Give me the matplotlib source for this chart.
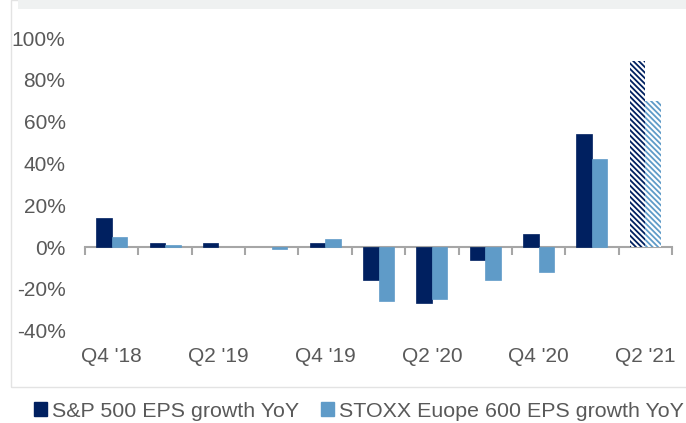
import matplotlib
matplotlib.use("Agg")
import matplotlib.pyplot as plt
from matplotlib.patches import Rectangle, Patch
import matplotlib.transforms as mtransforms
import numpy as np

plt.rcParams['font.family'] = ['Liberation Sans', 'DejaVu Sans']
plt.rcParams['hatch.linewidth'] = 1.3

quarters = ["Q4 '18", "Q1 '19", "Q2 '19", "Q3 '19", "Q4 '19", "Q1 '20",
            "Q2 '20", "Q3 '20", "Q4 '20", "Q1 '21", "Q2 '21"]
sp500 = [14, 2, 2, 0, 2, -16, -27, -6, 6, 54, 89]
stoxx = [5, 1, 0, -1, 4, -26, -25, -16, -12, 42, 70]
estimate = [False] * 10 + [True]
shown_labels = ["Q4 '18", "Q2 '19", "Q4 '19", "Q2 '20", "Q4 '20", "Q2 '21"]
yticks = [-40, -20, 0, 20, 40, 60, 80, 100]
series_names = ["S&P 500 EPS growth YoY", "STOXX Euope 600 EPS growth YoY"]

navy = "#002060"
lblue = "#5F9BC8"
txt = "#595959"

W, H = 686, 423
fig = plt.figure(figsize=(W / 100, H / 100), dpi=100)

# frame and top band
fig.patches.append(Rectangle((11 / W, 1 - 387 / H), 1, 387 / H, transform=fig.transFigure,
                             facecolor="none", edgecolor="#E3E3E3", lw=1.0, zorder=0))
fig.patches.append(Rectangle((18 / W, 1 - 9 / H), 1, 9 / H, transform=fig.transFigure,
                             facecolor="#EFF1F1", edgecolor="none", zorder=0))

left, right = 85 / W, 672 / W
top, bottom = 1 - 38 / H, 1 - 330.6 / H
ax = fig.add_axes([left, bottom, right - left, top - bottom])

x = np.arange(len(quarters))
bw = 0.29
for i in x:
    for val, col, off in ((sp500[i], navy, -bw / 2), (stoxx[i], lblue, bw / 2)):
        if val == 0:
            continue
        if estimate[i]:
            ax.bar(i + off, val, width=bw, facecolor="white", edgecolor=col,
                   hatch="\\" * 6, linewidth=0, zorder=2)
        else:
            ax.bar(i + off, val, width=bw, color=col, edgecolor=col, linewidth=0.5, zorder=2)

ax.set_xlim(-0.5, len(quarters) - 0.5)
ax.set_ylim(-40, 100)
for s in ["top", "right", "left"]:
    ax.spines[s].set_visible(False)
ax.spines["bottom"].set_position(("data", 0))
ax.spines["bottom"].set_color("#A6A6A6")
ax.spines["bottom"].set_linewidth(1.5)
ax.spines["bottom"].set_zorder(1)
ax.set_xticks(np.arange(len(quarters) + 1) - 0.5)
ax.set_xticklabels([])
ax.tick_params(axis="x", length=6, width=1.5, color="#A6A6A6", direction="out")

ax.set_yticks(yticks)
ax.set_yticklabels([f"{v}%" for v in yticks], color=txt, fontsize=15)
ax.tick_params(axis="y", length=0, pad=14)

trans = mtransforms.blended_transform_factory(ax.transData, ax.transAxes)
for i, q in enumerate(quarters):
    if q in shown_labels:
        ax.text(i, -0.09, q, transform=trans, ha="center", va="center",
                fontsize=15, color=txt)

handles = [Patch(facecolor=navy, edgecolor=navy), Patch(facecolor=lblue, edgecolor=lblue)]
fig.legend(handles, series_names, loc="center", bbox_to_anchor=(359 / W, 1 - 411 / H),
           ncol=2, frameon=False, fontsize=15.4, labelcolor=txt,
           handlelength=0.6, handleheight=0.6, handletextpad=0.25,
           columnspacing=1.0, borderpad=0, borderaxespad=0)

fig.savefig("out.png", dpi=100)
